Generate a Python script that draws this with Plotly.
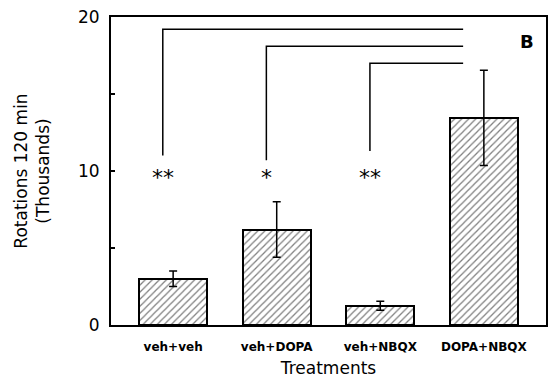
import plotly.graph_objects as go

categories = ["veh+veh", "veh+DOPA", "veh+NBQX", "DOPA+NBQX"]
means = [3.0, 6.2, 1.25, 13.45]
errors = [0.5, 1.8, 0.3, 3.1]

# significance brackets: from group i to DOPA+NBQX
bracket_from = [0, 1, 2]
bracket_top = [19.2, 18.1, 17.0]
bracket_bottom = [11.0, 10.7, 11.3]
bracket_stars = ["**", "*", "**"]
star_level = 9.6
bracket_offset = -0.1
bracket_end = 2.8

x = list(range(len(categories)))
FONT = "DejaVu Sans"

fig = go.Figure()
fig.add_trace(go.Bar(
    x=x, y=means, width=0.66,
    marker=dict(color="white", line=dict(color="black", width=2),
                pattern=dict(shape="/", fgcolor="black", bgcolor="white",
                             size=5, solidity=0.25)),
    error_y=dict(type="data", array=errors, color="black", thickness=1.5, width=4),
    showlegend=False,
))

for i, top, bot, s in zip(bracket_from, bracket_top, bracket_bottom, bracket_stars):
    xs = i + bracket_offset
    fig.add_trace(go.Scatter(
        x=[xs, xs, bracket_end], y=[bot, top, top], mode="lines",
        line=dict(color="black", width=1.5), showlegend=False, hoverinfo="skip"))
    fig.add_annotation(x=xs, y=star_level, text=s, showarrow=False,
                       font=dict(size=22, color="black", family=FONT))

fig.add_annotation(xref="paper", yref="paper", x=0.957, y=0.922, text="<b>B</b>",
                   xanchor="center", yanchor="middle",
                   showarrow=False, font=dict(size=18, color="black", family=FONT))

fig.update_layout(
    width=549, height=381,
    margin=dict(l=111, r=1, t=17, b=56),
    plot_bgcolor="white", paper_bgcolor="white",
    font=dict(family=FONT, color="black"),
    bargap=0,
)
fig.update_xaxes(
    range=[-0.6, 3.6], tickvals=x, ticktext=["<b>%s</b>" % c for c in categories],
    tickfont=dict(size=12), ticks="", showgrid=False, zeroline=False,
    ticklabelstandoff=10,
    showline=True, linecolor="black", linewidth=2, mirror=True,
    title=dict(text="Treatments", font=dict(size=17), standoff=9),
)
fig.update_yaxes(
    range=[0, 20], tickvals=[0, 5, 10, 15, 20], ticktext=["0", "", "10", "", "20"],
    ticks="inside", ticklen=4, tickwidth=1.5, tickcolor="black",
    tickfont=dict(size=17), showgrid=False, zeroline=False,
    ticklabelstandoff=6,
    showline=True, linecolor="black", linewidth=2, mirror=True,
    title=dict(text="Rotations 120 min<br>(Thousands)", font=dict(size=17), standoff=24),
)

fig.write_html("out.html")
